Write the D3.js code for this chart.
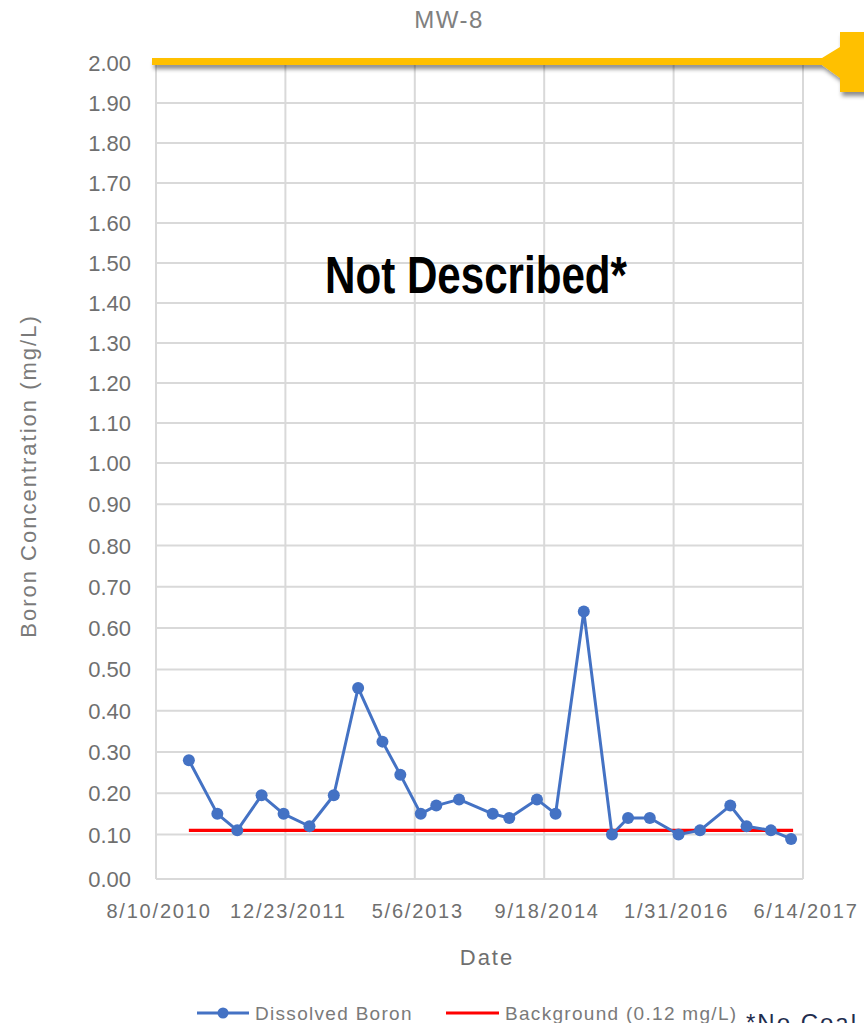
<!DOCTYPE html>
<html>
<head>
<meta charset="utf-8">
<script src="https://cdn.jsdelivr.net/npm/d3@7"></script>
<style>
  html, body { margin: 0; padding: 0; background: #fff; }
  svg { display: block; }
</style>
</head>
<body>
<script>
// ---- data ----
const title = "MW-8";
const yTickValues = [0, 0.1, 0.2, 0.3, 0.4, 0.5, 0.6, 0.7, 0.8, 0.9, 1.0, 1.1, 1.2, 1.3, 1.4, 1.5, 1.6, 1.7, 1.8, 1.9, 2.0];
const xTickLabels = ["8/10/2010", "12/23/2011", "5/6/2013", "9/18/2014", "1/31/2016", "6/14/2017"];
const sampleDates = ["2010-12-15", "2011-04-04", "2011-06-20", "2011-09-22", "2011-12-16", "2012-03-25",
  "2012-06-27", "2012-09-29", "2013-01-01", "2013-03-11", "2013-05-29", "2013-07-28", "2013-10-24",
  "2014-03-03", "2014-05-06", "2014-08-21", "2014-11-01", "2015-02-18", "2015-06-07", "2015-08-08",
  "2015-10-31", "2016-02-19", "2016-05-12", "2016-09-06", "2016-11-08", "2017-02-10", "2017-04-29"];
const boronValues = [0.28, 0.15, 0.11, 0.195, 0.15, 0.12, 0.195, 0.455, 0.325, 0.245, 0.15, 0.17, 0.185,
  0.15, 0.14, 0.185, 0.15, 0.64, 0.10, 0.14, 0.14, 0.10, 0.11, 0.17, 0.12, 0.11, 0.09];
const backgroundValue = 0.11;
const seriesNames = ["Dissolved Boron", "Background (0.12 mg/L)"];
const overlayText = "Not Described*";
const footnoteText = "*No Coal Ash";

// ---- setup ----
const W = 864, H = 1023;
const parse = d3.timeParse("%m/%d/%Y");
const parseIso = d3.timeParse("%Y-%m-%d");
const xTickDates = xTickLabels.map(parse);

const svg = d3.select("body").append("svg").attr("width", W).attr("height", H);

const defs = svg.append("defs");
const f = defs.append("filter").attr("id", "shadow").attr("x", "-20%").attr("y", "-50%").attr("width", "140%").attr("height", "300%");
f.append("feDropShadow").attr("dx", 2).attr("dy", 4).attr("stdDeviation", 2.2)
  .attr("flood-color", "#000").attr("flood-opacity", 0.45);

const x = d3.scaleTime().domain([xTickDates[0], xTickDates[xTickDates.length - 1]]).range([156, 803]);
const y = d3.scaleLinear().domain([0, 0.1, 1, 2]).range([879, 834.5, 463, 63]);

const gridColor = "#d9d9d9";
const textGray = "#6f6f6f";

// gridlines
const g = svg.append("g");
g.selectAll("line.h").data(yTickValues).enter().append("line")
  .attr("x1", 156).attr("x2", 803)
  .attr("y1", d => y(d)).attr("y2", d => y(d))
  .attr("stroke", gridColor).attr("stroke-width", 2);
g.selectAll("line.v").data(xTickDates).enter().append("line")
  .attr("x1", d => x(d)).attr("x2", d => x(d))
  .attr("y1", y(2)).attr("y2", y(0))
  .attr("stroke", gridColor).attr("stroke-width", 2);

// y tick labels
svg.append("g").selectAll("text").data(yTickValues).enter().append("text")
  .attr("x", 131).attr("y", d => y(d) + 8)
  .attr("text-anchor", "end")
  .attr("font-family", "Liberation Sans Narrow, Arial Narrow, Liberation Sans, sans-serif")
  .attr("font-size", 22)
  .attr("fill", textGray)
  .text(d => d3.format(".2f")(d));

// x tick labels
svg.append("g").selectAll("text").data(xTickDates).enter().append("text")
  .attr("x", d => x(d) + 3).attr("y", 918)
  .attr("text-anchor", "middle")
  .attr("font-family", "Liberation Sans, Arial, sans-serif")
  .attr("font-size", 20).attr("letter-spacing", 1.8)
  .attr("fill", textGray)
  .text((d, i) => xTickLabels[i]);

// axis titles
svg.append("text").attr("x", 487).attr("y", 965).attr("text-anchor", "middle")
  .attr("font-family", "Liberation Sans, Arial, sans-serif").attr("font-size", 22)
  .attr("letter-spacing", 2).attr("fill", textGray).text("Date");
svg.append("text").attr("transform", "translate(36,476) rotate(-90)").attr("text-anchor", "middle")
  .attr("font-family", "Liberation Sans, Arial, sans-serif").attr("font-size", 22)
  .attr("letter-spacing", 2).attr("fill", "#7a7a7a").text("Boron Concentration (mg/L)");

// chart title
svg.append("text").attr("x", 449).attr("y", 28).attr("text-anchor", "middle")
  .attr("font-family", "Liberation Sans, Arial, sans-serif").attr("font-size", 24)
  .attr("letter-spacing", 1.5).attr("fill", "#808080").text(title);

// background line
const bgDates = [parseIso(sampleDates[0]), parseIso(sampleDates[sampleDates.length - 1])];
svg.append("line")
  .attr("x1", x(bgDates[0])).attr("x2", x(bgDates[1]) + 2)
  .attr("y1", y(backgroundValue)).attr("y2", y(backgroundValue))
  .attr("stroke", "#ff0000").attr("stroke-width", 3.2);

// boron series
const pts = sampleDates.map((d, i) => ({ date: parseIso(d), v: boronValues[i] }));
const line = d3.line().x(d => x(d.date)).y(d => y(d.v));
svg.append("path").datum(pts).attr("d", line)
  .attr("fill", "none").attr("stroke", "#4472c4").attr("stroke-width", 3).attr("stroke-linejoin", "round");
svg.append("g").selectAll("circle").data(pts).enter().append("circle")
  .attr("cx", d => x(d.date)).attr("cy", d => y(d.v)).attr("r", 6)
  .attr("fill", "#4472c4");

// overlay text
svg.append("text").attr("x", 325).attr("y", 293)
  .attr("font-family", "Liberation Sans Narrow, Liberation Sans, Arial Narrow, sans-serif")
  .attr("font-weight", "bold").attr("font-size", 51)
  .attr("textLength", 302).attr("lengthAdjust", "spacingAndGlyphs")
  .attr("fill", "#000").text(overlayText);

// yellow line with arrow
const yl = y(2) - 1.5;
const shapeG = svg.append("g").attr("filter", "url(#shadow)");
shapeG.append("path")
  .attr("d", `M152,${yl - 3.5}H822L840,47V32H870V92H840V78L822,${yl + 3.5}H152Z`)
  .attr("fill", "#ffc000");

// legend
const lg = svg.append("g");
const ly = 1013;
lg.append("line").attr("x1", 197).attr("x2", 249).attr("y1", ly).attr("y2", ly)
  .attr("stroke", "#4472c4").attr("stroke-width", 3);
lg.append("circle").attr("cx", 223).attr("cy", ly).attr("r", 5.5).attr("fill", "#4472c4");
lg.append("text").attr("x", 255).attr("y", ly + 7)
  .attr("font-family", "Liberation Sans, Arial, sans-serif").attr("font-size", 19)
  .attr("letter-spacing", 1.3).attr("fill", "#7a7a7a").text(seriesNames[0]);
lg.append("line").attr("x1", 446).attr("x2", 499).attr("y1", ly).attr("y2", ly)
  .attr("stroke", "#ff0000").attr("stroke-width", 3);
lg.append("text").attr("x", 505).attr("y", ly + 7)
  .attr("font-family", "Liberation Sans, Arial, sans-serif").attr("font-size", 19)
  .attr("letter-spacing", 1.3).attr("fill", "#7a7a7a").text(seriesNames[1]);

// footnote (cut off at the bottom edge, as in the source)
svg.append("text").attr("x", 746).attr("y", 1031)
  .attr("font-family", "Liberation Sans, Arial, sans-serif").attr("font-size", 24)
  .attr("letter-spacing", 2).attr("fill", "#1f2d4e").text(footnoteText);
</script>
</body>
</html>
